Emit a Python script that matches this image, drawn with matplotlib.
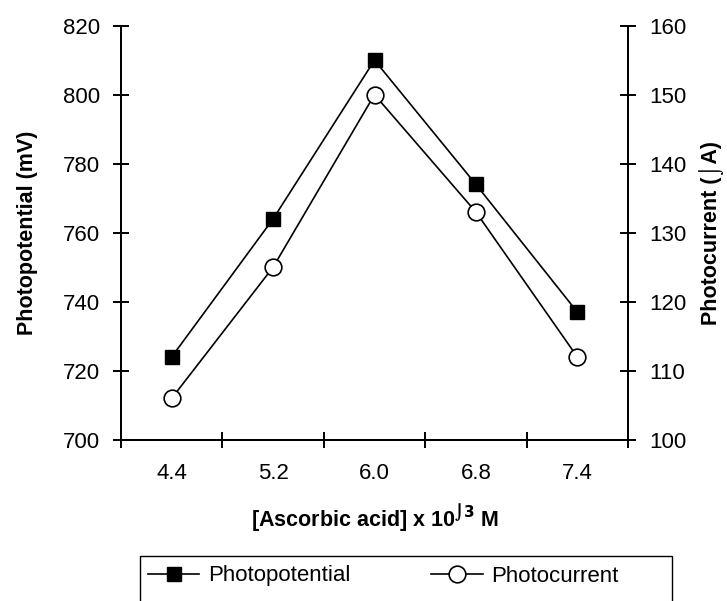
import numpy as np
import matplotlib
matplotlib.use("Agg")
import matplotlib.pyplot as plt
from matplotlib.patches import Rectangle

# Data
concentrations = ["4.4", "5.2", "6.0", "6.8", "7.4"]
photopotential = [724, 764, 810, 774, 737]   # mV, left axis
photocurrent = [106, 125, 150, 133, 112]     # uA, right axis

left_ticks = [700, 720, 740, 760, 780, 800, 820]
right_ticks = [100, 110, 120, 130, 140, 150, 160]

plt.rcParams["font.family"] = ["Liberation Sans", "DejaVu Sans"]
plt.rcParams["mathtext.fontset"] = "custom"
plt.rcParams["mathtext.rm"] = "Liberation Sans"
plt.rcParams["mathtext.bf"] = "DejaVu Sans:bold"

FS = 16      # tick labels and legend
LFS = 15.5   # axis titles


def main():
    W, H = 727, 601
    fig = plt.figure(figsize=(W / 100, H / 100), dpi=100)
    ax = fig.add_axes([121 / W, 1 - 439.7 / H, 507 / W, 414 / H])
    ax2 = ax.twinx()

    x = np.arange(len(concentrations))

    l1, = ax.plot(x, photopotential, color="black", lw=1.2, marker="s",
                  markersize=10, markerfacecolor="black", markeredgecolor="black",
                  label="Photopotential")
    l2, = ax2.plot(x, photocurrent, color="black", lw=1.2, marker="o",
                   markersize=12, markerfacecolor="white", markeredgecolor="black",
                   markeredgewidth=1.2, label="Photocurrent")

    ax.set_xlim(-0.5, len(concentrations) - 0.5)
    ax.set_ylim(700, 820)
    ax2.set_ylim(100, 160)
    ax.set_yticks(left_ticks)
    ax2.set_yticks(right_ticks)

    # category labels at centres, tick marks at category boundaries
    ax.set_xticks(x)
    ax.set_xticklabels(concentrations)
    ax.set_xticks(np.arange(-0.5, len(concentrations)), minor=True)
    ax.tick_params(axis="x", which="major", length=0, pad=17, labelsize=FS)
    ax.tick_params(axis="x", which="minor", direction="inout", length=12, width=1.4)
    ax.tick_params(axis="y", direction="inout", length=12, width=1.4, labelsize=FS, pad=9)
    ax2.tick_params(axis="y", direction="inout", length=12, width=1.4, labelsize=FS, pad=9)

    for a in (ax, ax2):
        a.spines["top"].set_visible(False)
        for s in ("left", "right", "bottom"):
            a.spines[s].set_linewidth(1.4)

    ax.set_ylabel("Photopotential (mV)", fontsize=LFS, fontweight="bold", labelpad=18)
    ax2.set_ylabel("Photocurrent (\u2321A)", fontsize=LFS, fontweight="bold", labelpad=9)
    ax.set_xlabel("[Ascorbic acid] x 10$^{\\mathbf{\u2321 3}}$ M", fontsize=LFS,
                  fontweight="bold", labelpad=13)

    fig.legend(handles=[l1, l2], loc="center left", ncol=2,
               bbox_to_anchor=(148 / W, 1 - 576 / H),
               fontsize=FS, handlelength=2.3, handletextpad=0.4,
               columnspacing=3.65, borderaxespad=0, borderpad=0, frameon=False)
    # legend box, its bottom edge runs off the figure as in the reference
    fig.patches.append(Rectangle((140 / W, 1 - 612 / H), 532 / W, 56 / H,
                                 transform=fig.transFigure, fill=False,
                                 edgecolor="black", linewidth=1.0))

    fig.savefig("out.png", dpi=100)


if __name__ == "__main__":
    main()
